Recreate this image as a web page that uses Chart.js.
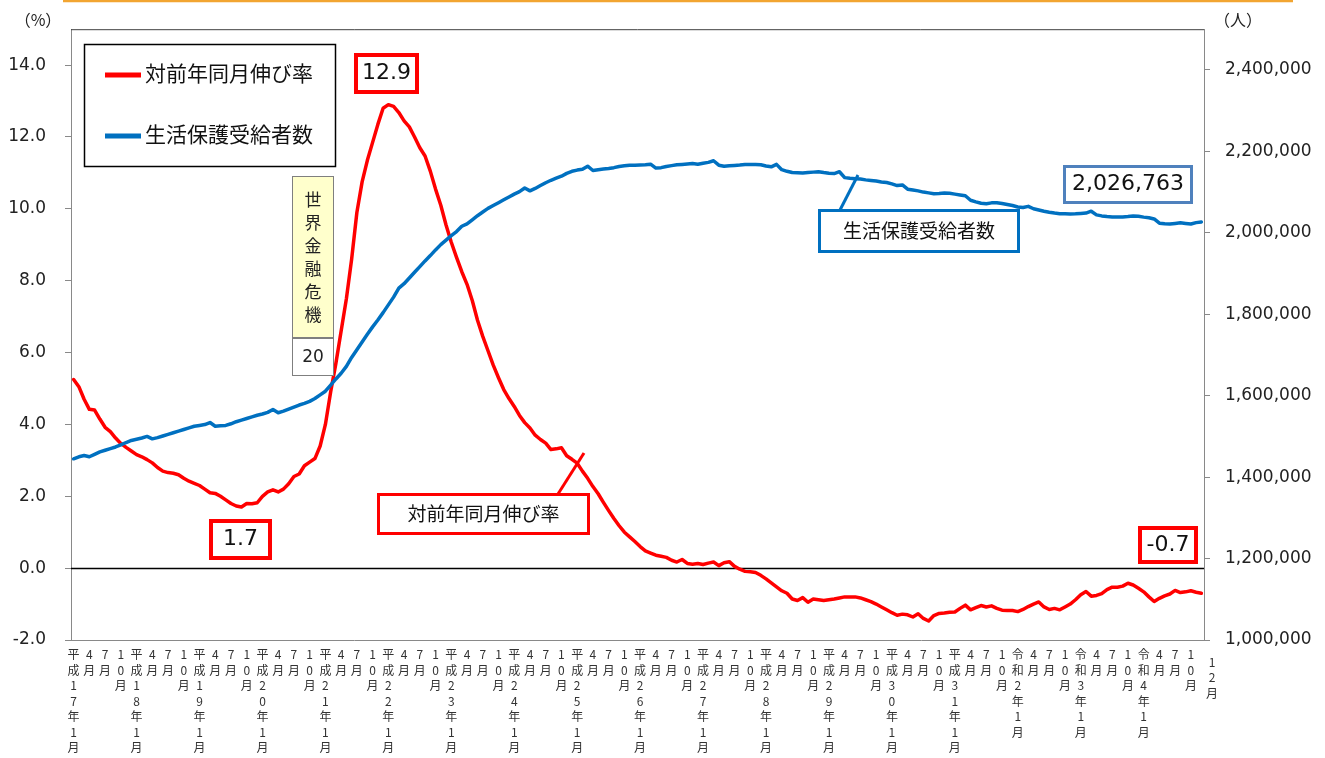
<!DOCTYPE html>
<html lang="ja">
<head>
<meta charset="utf-8">
<title>生活保護受給者数と対前年同月伸び率の推移</title>
<script src="https://cdn.jsdelivr.net/npm/chart.js@4.4.1/dist/chart.umd.min.js"></script>
<style>
    html, body { margin: 0; padding: 0; background: #fff; }
    #wrap { width: 1325px; height: 758px; }
</style>
</head>
<body>
<div id="wrap"><canvas id="welfareChart" width="1325" height="758"></canvas></div>
<script>
// 年ラベル (各年1月に表示)
const eraYears = [
    '平成17年', '平成18年', '平成19年', '平成20年', '平成21年', '平成22年',
    '平成23年', '平成24年', '平成25年', '平成26年', '平成27年', '平成28年',
    '平成29年', '平成30年', '平成31年', '令和2年', '令和3年', '令和4年'
];
const labelMonths = [1, 4, 7, 10];
const lastMonthLabel = '12月';

// 対前年同月伸び率 (%)  平成17年1月〜令和4年12月
const growthRate = [
    5.25, 5.05, 4.7, 4.42, 4.4, 4.15, 3.92, 3.8, 3.62, 3.47, 3.36, 3.26,
    3.16, 3.1, 3.02, 2.93, 2.8, 2.7, 2.66, 2.64, 2.6, 2.5, 2.42, 2.36,
    2.3, 2.2, 2.1, 2.08, 2.0, 1.9, 1.8, 1.73, 1.7, 1.8, 1.79, 1.82,
    2.0, 2.12, 2.18, 2.12, 2.2, 2.35, 2.55, 2.62, 2.85, 2.95, 3.05, 3.4,
    4.0, 4.9, 5.7, 6.6, 7.5, 8.6, 9.9, 10.75, 11.35, 11.85, 12.35, 12.8,
    12.9, 12.85, 12.68, 12.45, 12.28, 12.0, 11.7, 11.47, 11.05, 10.55, 10.1, 9.55,
    9.07, 8.65, 8.25, 7.9, 7.45, 6.9, 6.45, 6.05, 5.65, 5.3, 4.97, 4.72,
    4.5, 4.25, 4.05, 3.9, 3.7, 3.58, 3.48, 3.3, 3.32, 3.35, 3.13, 3.03,
    2.92, 2.7, 2.5, 2.27, 2.07, 1.83, 1.6, 1.38, 1.18, 1.0, 0.87, 0.74,
    0.6, 0.48, 0.42, 0.36, 0.33, 0.3, 0.22, 0.17, 0.24, 0.13, 0.11, 0.13,
    0.1, 0.14, 0.17, 0.07, 0.15, 0.18, 0.05, -0.03, -0.09, -0.1, -0.12, -0.2,
    -0.3, -0.41, -0.52, -0.63, -0.7, -0.86, -0.9, -0.82, -0.95, -0.86, -0.88, -0.9,
    -0.88, -0.86, -0.83, -0.8, -0.8, -0.8, -0.83, -0.88, -0.93, -1.0, -1.08, -1.16,
    -1.24, -1.31, -1.28, -1.3, -1.36, -1.27, -1.4, -1.47, -1.32, -1.26, -1.25, -1.23,
    -1.22, -1.12, -1.03, -1.16, -1.1, -1.04, -1.08, -1.05, -1.12, -1.17, -1.18, -1.18,
    -1.21, -1.15, -1.07, -1.0, -0.94, -1.08, -1.15, -1.12, -1.16, -1.08, -1.0, -0.88,
    -0.74, -0.65, -0.78, -0.76, -0.71, -0.6, -0.53, -0.53, -0.5, -0.42, -0.47, -0.56,
    -0.66, -0.8, -0.93, -0.84, -0.77, -0.72, -0.62, -0.68, -0.66, -0.63, -0.67, -0.7
];

// 生活保護受給者数 (人)
const recipients = [
    1445000, 1450000, 1453000, 1450000, 1456000, 1462000, 1466000, 1470000, 1474000, 1479000, 1485000, 1490000,
    1493000, 1496000, 1500000, 1494000, 1497000, 1501000, 1505000, 1509000, 1513000, 1517000, 1521000, 1525000,
    1527000, 1529000, 1534000, 1525000, 1526000, 1527000, 1531000, 1536000, 1540000, 1544000, 1548000, 1552000,
    1555000, 1559000, 1566000, 1558000, 1562000, 1567000, 1572000, 1577000, 1581000, 1586000, 1593000, 1602000,
    1611000, 1626000, 1641000, 1655000, 1672000, 1694000, 1713000, 1732000, 1751000, 1769000, 1786000, 1804000,
    1823000, 1842000, 1864000, 1875000, 1889000, 1903000, 1917000, 1931000, 1944000, 1958000, 1971000, 1982000,
    1993000, 2003000, 2016000, 2022000, 2032000, 2042000, 2051000, 2060000, 2067000, 2074000, 2081000, 2088000,
    2095000, 2101000, 2110000, 2103000, 2109000, 2116000, 2123000, 2129000, 2134000, 2139000, 2146000, 2151000,
    2154000, 2156000, 2163500, 2153000, 2155000, 2156500, 2158000, 2160000, 2163000, 2164500, 2166000, 2166000,
    2166500, 2167000, 2168500, 2159000, 2160000, 2163000, 2165000, 2167000, 2168000, 2169000, 2170000, 2168500,
    2171000, 2173000, 2177000, 2166000, 2163500, 2164500, 2165500, 2166500, 2168000, 2167500, 2168000, 2167000,
    2164000, 2162000, 2168000, 2155000, 2151000, 2148000, 2147500, 2147000, 2148000, 2149000, 2150000, 2148000,
    2146500, 2145500, 2150000, 2135500, 2134000, 2133000, 2132000, 2130000, 2128500, 2127000, 2125000, 2123500,
    2120000, 2116000, 2117500, 2107000, 2105000, 2103000, 2100000, 2098000, 2096000, 2096500, 2097500, 2097000,
    2095000, 2093000, 2091000, 2080000, 2076000, 2072500, 2071500, 2073500, 2074000, 2072000, 2069500, 2067000,
    2063500, 2062000, 2065000, 2059000, 2056000, 2053000, 2050500, 2048500, 2047000, 2046500, 2046000, 2046500,
    2047500, 2048500, 2053000, 2044000, 2041500, 2040000, 2039000, 2039000, 2039000, 2040000, 2041500, 2040500,
    2038500, 2037000, 2034000, 2023500, 2022000, 2021500, 2023000, 2024500, 2023000, 2021500, 2025000, 2026763
];

const rateTicks = [-2, 0, 2, 4, 6, 8, 10, 12, 14];
const peopleTicks = [1000000, 1200000, 1400000, 1600000, 1800000, 2000000, 2200000, 2400000];

const RED = '#FF0000';
const BLUE = '#0070C0';
const JP_FONT = "'Noto Sans CJK JP', 'Noto Sans', sans-serif";
const NUM_FONT = "'DejaVu Sans', 'Noto Sans', sans-serif";

// 月ごとのカテゴリ (ラベルは縦書きになるよう1文字ずつ改行)
// 最終月(12月)のラベルは軸の外側に置くので別に描く
const monthLabels = [];
eraYears.forEach(year => {
    for (let m = 1; m <= 12; m++) {
        let text = '';
        if (m === 1) text = year + '1月';
        else if (labelMonths.includes(m)) text = m + '月';
        monthLabels.push(text ? Array.from(text) : '');
    }
});

function drawBox(ctx, x, y, w, h, o) {
    ctx.save();
    ctx.fillStyle = o.fill || '#fff';
    ctx.fillRect(x, y, w, h);
    ctx.lineWidth = o.lineWidth;
    ctx.strokeStyle = o.stroke;
    ctx.strokeRect(x, y, w, h);
    if (o.text) {
        ctx.fillStyle = '#111';
        ctx.font = o.font;
        ctx.textAlign = 'center';
        ctx.textBaseline = 'middle';
        ctx.fillText(o.text, x + w / 2, y + h / 2 + (o.dy || 0));
    }
    ctx.restore();
}

function drawLine(ctx, x1, y1, x2, y2, color, width) {
    ctx.save();
    ctx.strokeStyle = color;
    ctx.lineWidth = width;
    ctx.beginPath();
    ctx.moveTo(x1, y1);
    ctx.lineTo(x2, y2);
    ctx.stroke();
    ctx.restore();
}

// Frame, zero line and units (under the lines)
const framePlugin = {
    id: 'frame',
    beforeDatasetsDraw(chart) {
        const { ctx, chartArea, scales } = chart;
        drawLine(ctx, 63, 1, 1293, 1, '#F2A531', 2.5);
        drawLine(ctx, chartArea.left, chartArea.top + 0.5, chartArea.right, chartArea.top + 0.5, '#404040', 1);
        const y0 = Math.round(scales.yRate.getPixelForValue(0)) + 0.5;
        drawLine(ctx, chartArea.left, y0, chartArea.right, y0, '#000', 1.5);

        ctx.save();
        ctx.fillStyle = '#222';
        ctx.font = '16px ' + JP_FONT;
        ctx.textAlign = 'center';
        ctx.textBaseline = 'middle';
        ctx.fillText('（%）', 38, 20);
        ctx.fillText('（人）', 1238, 20);

        // last month label, set just outside the right axis
        ctx.fillStyle = '#333';
        ctx.font = '12px ' + JP_FONT;
        Array.from(lastMonthLabel).forEach((c, k) => ctx.fillText(c, 1212, 662 + k * 15.5));
        ctx.restore();
    }
};

// Legend and callouts (over the lines)
const annotationPlugin = {
    id: 'callouts',
    afterDatasetsDraw(chart) {
        const { ctx } = chart;
        const ds = chart.data.datasets;

        // legend box
        drawBox(ctx, 84.5, 44.5, 251, 122, { stroke: '#000', lineWidth: 1.5 });
        const legendRows = [ds[1], ds[0]];
        legendRows.forEach((d, k) => {
            const y = 75 + k * 61;
            drawLine(ctx, 105, y, 141, y, d.borderColor, 5);
            ctx.save();
            ctx.fillStyle = '#111';
            ctx.font = '21px ' + JP_FONT;
            ctx.textBaseline = 'middle';
            ctx.fillText(d.label, 145, y - 2);
            ctx.restore();
        });

        // 世界金融危機
        ctx.save();
        ctx.fillStyle = '#FFFFCC';
        ctx.fillRect(292, 176, 42, 162);
        ctx.strokeStyle = '#7F7F7F';
        ctx.lineWidth = 1;
        ctx.strokeRect(292.5, 176.5, 41, 161);
        ctx.fillStyle = '#fff';
        ctx.fillRect(292, 338, 42, 38);
        ctx.strokeRect(292.5, 338.5, 41, 37);
        ctx.fillStyle = '#222';
        ctx.font = '17px ' + JP_FONT;
        ctx.textAlign = 'center';
        ctx.textBaseline = 'middle';
        Array.from('世界金融危機').forEach((c, k) => ctx.fillText(c, 313, 200 + k * 23));
        ctx.font = '17px ' + NUM_FONT;
        ctx.fillText('20', 313, 358);
        ctx.restore();

        const big = '22px ' + NUM_FONT;
        drawBox(ctx, 356, 55, 61, 37, { stroke: RED, lineWidth: 4, text: '12.9', font: big });
        drawBox(ctx, 211, 521, 59, 37, { stroke: RED, lineWidth: 4, text: '1.7', font: big });
        drawBox(ctx, 1140, 528, 56, 34, { stroke: RED, lineWidth: 4, text: '-0.7', font: big });
        drawBox(ctx, 1064.5, 166.5, 127, 36, { stroke: '#4F81BD', lineWidth: 3, text: '2,026,763', font: big });

        drawLine(ctx, 558, 494, 584, 453, RED, 3);
        drawBox(ctx, 378.5, 494.5, 210, 39, { stroke: RED, lineWidth: 3, text: ds[1].label, font: '19px ' + JP_FONT });

        drawLine(ctx, 840, 210, 858, 175, BLUE, 3);
        drawBox(ctx, 819.5, 210.5, 199, 41, { stroke: BLUE, lineWidth: 3, text: ds[0].label, font: '19px ' + JP_FONT });
    }
};

new Chart(document.getElementById('welfareChart'), {
    type: 'line',
    data: {
        labels: monthLabels,
        datasets: [
            {
                label: '生活保護受給者数',
                data: recipients,
                yAxisID: 'yPeople',
                borderColor: BLUE,
                borderWidth: 3.5,
                pointRadius: 0,
                tension: 0,
                order: 0
            },
            {
                label: '対前年同月伸び率',
                data: growthRate,
                yAxisID: 'yRate',
                borderColor: RED,
                borderWidth: 3.5,
                pointRadius: 0,
                tension: 0,
                order: 1
            }
        ]
    },
    options: {
        responsive: false,
        animation: false,
        layout: { padding: { top: 27, left: 0, right: 0, bottom: 0 } },
        plugins: {
            legend: { display: false },
            tooltip: { enabled: false }
        },
        elements: { line: { borderJoinStyle: 'round', borderCapStyle: 'round' } },
        scales: {
            x: {
                type: 'category',
                offset: true,
                grid: { display: false, drawTicks: false },
                border: { display: true, color: '#898989', width: 1 },
                ticks: {
                    autoSkip: false,
                    maxRotation: 0,
                    minRotation: 0,
                    padding: 7,
                    color: '#333',
                    font: { family: JP_FONT, size: 12, lineHeight: '15.5px' }
                },
                afterFit(scale) { scale.height = 118; }
            },
            yRate: {
                type: 'linear',
                position: 'left',
                min: -2,
                max: 15,
                afterBuildTicks(scale) { scale.ticks = rateTicks.map(v => ({ value: v })); },
                grid: { drawOnChartArea: false, drawTicks: true, tickLength: 6, color: '#898989' },
                border: { display: true, color: '#898989', width: 1 },
                ticks: {
                    padding: 19,
                    color: '#222',
                    font: { family: NUM_FONT, size: 17 },
                    callback: v => v.toFixed(1)
                },
                afterFit(scale) { scale.width = 71; }
            },
            yPeople: {
                type: 'linear',
                position: 'right',
                min: 1000000,
                max: 2500000,
                afterBuildTicks(scale) { scale.ticks = peopleTicks.map(v => ({ value: v })); },
                grid: { drawOnChartArea: false, drawTicks: true, tickLength: 6, color: '#898989' },
                border: { display: true, color: '#898989', width: 1 },
                ticks: {
                    padding: 15,
                    color: '#222',
                    font: { family: NUM_FONT, size: 17 },
                    callback: v => v.toLocaleString('en-US')
                },
                afterFit(scale) { scale.width = 121; }
            }
        }
    },
    plugins: [framePlugin, annotationPlugin]
});
</script>
</body>
</html>
